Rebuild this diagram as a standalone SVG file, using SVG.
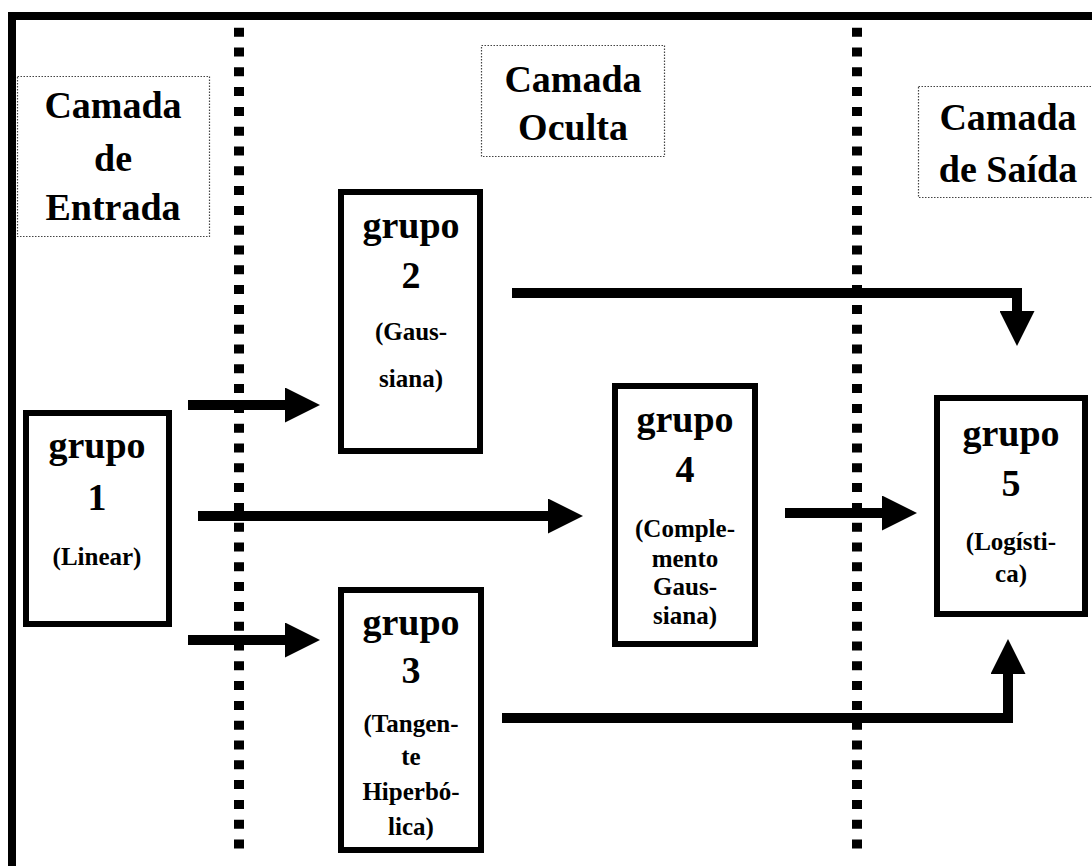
<svg xmlns="http://www.w3.org/2000/svg" width="1092" height="866" viewBox="0 0 1092 866">
<style>
.frame{fill:none;stroke:#000;stroke-width:8}
.dots{stroke:#000;stroke-width:10;stroke-dasharray:9 10.8}
.lbl{fill:none;stroke:#444;stroke-width:1.2;stroke-dasharray:1.5 1.5}
.box{fill:#fff;stroke:#000;stroke-width:6}
.big{font-family:"Liberation Serif","Times New Roman",serif;font-weight:bold;font-size:38px;text-anchor:middle;fill:#000}
.sm{font-family:"Liberation Serif","Times New Roman",serif;font-weight:bold;font-size:25px;text-anchor:middle;fill:#000}
.arr{fill:none;stroke:#000;stroke-width:10;stroke-linejoin:miter}
</style>
<defs>
<marker id="ah" viewBox="0 0 35 35" markerUnits="userSpaceOnUse" markerWidth="35" markerHeight="35" refX="1" refY="17.5" orient="auto">
<path d="M0,0 L35,17.5 L0,35 z" fill="#000"/>
</marker>
</defs>
<rect width="1092" height="866" fill="#fff"/>
<path class="frame" d="M12,866 V16 H1092"/>
<g id="layers">
<line class="dots" x1="239" y1="27.7" x2="239" y2="852"/>
<line class="dots" x1="857" y1="27.7" x2="857" y2="852"/>
</g>
<g id="label-entrada">
<rect class="lbl" x="17.5" y="76.5" width="192" height="160"/>
<text class="big" x="113" y="118">Camada</text>
<text class="big" x="113" y="171">de</text>
<text class="big" x="113" y="220">Entrada</text>
</g>
<g id="label-oculta">
<rect class="lbl" x="481.5" y="45.5" width="183" height="111"/>
<text class="big" x="573" y="92">Camada</text>
<text class="big" x="573" y="140">Oculta</text>
</g>
<g id="label-saida">
<rect class="lbl" x="918.5" y="86.5" width="190" height="111"/>
<text class="big" x="1008" y="130">Camada</text>
<text class="big" x="1008" y="182">de Saída</text>
</g>
<g id="connectors">
<line class="arr" x1="188" y1="405" x2="286" y2="405" marker-end="url(#ah)"/>
<line class="arr" x1="198" y1="516" x2="549" y2="516" marker-end="url(#ah)"/>
<line class="arr" x1="188" y1="640" x2="286" y2="640" marker-end="url(#ah)"/>
<polyline class="arr" points="512,293 1017,293 1017,312" marker-end="url(#ah)"/>
<line class="arr" x1="785" y1="513" x2="883" y2="513" marker-end="url(#ah)"/>
<polyline class="arr" points="502,718 1008,718 1008,673" marker-end="url(#ah)"/>
</g>
<g id="grupo1">
<rect class="box" x="26" y="413" width="143" height="211"/>
<text class="big" x="97" y="458">grupo</text>
<text class="big" x="97" y="510">1</text>
<text class="sm" x="97" y="565">(Linear)</text>
</g>
<g id="grupo2">
<rect class="box" x="341" y="192" width="139" height="259"/>
<text class="big" x="411" y="238">grupo</text>
<text class="big" x="411" y="288">2</text>
<text class="sm" x="411" y="340">(Gaus-</text>
<text class="sm" x="411" y="387">siana)</text>
</g>
<g id="grupo3">
<rect class="box" x="341" y="590" width="140" height="260"/>
<text class="big" x="411" y="635">grupo</text>
<text class="big" x="411" y="683">3</text>
<text class="sm" x="411" y="732">(Tangen-</text>
<text class="sm" x="411" y="765">te</text>
<text class="sm" x="411" y="800">Hiperbó-</text>
<text class="sm" x="411" y="835">lica)</text>
</g>
<g id="grupo4">
<rect class="box" x="615" y="386" width="140" height="258"/>
<text class="big" x="685" y="432">grupo</text>
<text class="big" x="685" y="482">4</text>
<text class="sm" x="685" y="537">(Comple-</text>
<text class="sm" x="685" y="567">mento</text>
<text class="sm" x="685" y="595">Gaus-</text>
<text class="sm" x="685" y="624">siana)</text>
</g>
<g id="grupo5">
<rect class="box" x="937" y="398" width="148" height="216"/>
<text class="big" x="1011" y="446">grupo</text>
<text class="big" x="1011" y="496">5</text>
<text class="sm" x="1011" y="550">(Logísti-</text>
<text class="sm" x="1011" y="582">ca)</text>
</g>
</svg>
